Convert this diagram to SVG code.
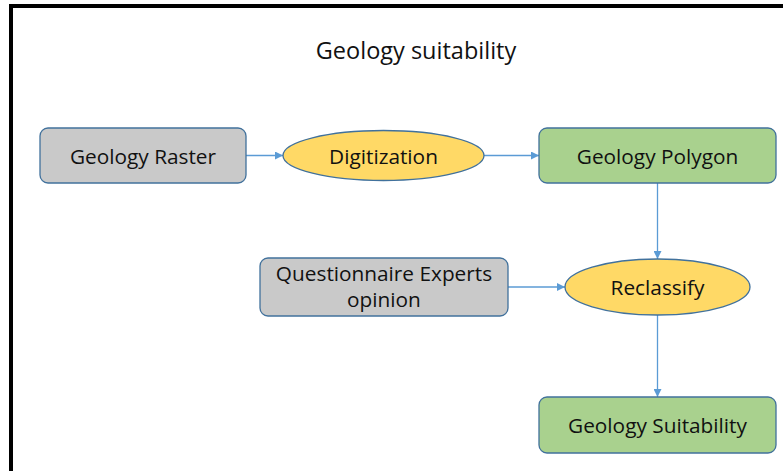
<svg xmlns="http://www.w3.org/2000/svg" width="783" height="471" viewBox="0 0 783 471">
  <defs>
    <marker id="arrow" viewBox="0 0 10 10" refX="10" refY="5" markerWidth="8" markerHeight="8" markerUnits="userSpaceOnUse" orient="auto">
      <path d="M0,0 L10,5 L0,10 z" fill="#5B9BD5"/>
    </marker>
    <style>
      .box { stroke: #41719C; stroke-width: 1.3; }
      .gray { fill: #C9C9C9; }
      .green { fill: #A9D18E; }
      .oval { fill: #FFD966; stroke: #41719C; stroke-width: 1.3; }
      .label { font-family: "Open Sans", "Liberation Sans", sans-serif; font-size: 20.8px; fill: #111; text-anchor: middle; dominant-baseline: central; }
      .title { font-family: "Open Sans", "Liberation Sans", sans-serif; font-size: 23.5px; fill: #111; text-anchor: middle; }
      .conn { stroke: #5B9BD5; stroke-width: 1.3; fill: none; marker-end: url(#arrow); }
    </style>
  </defs>
  <rect width="783" height="471" fill="#ffffff"/>
  <!-- frame: top and left edges -->
  <path d="M11,471 L11,6 L783,6" fill="none" stroke="#000" stroke-width="4"/>

  <text class="title" x="416" y="59">Geology suitability</text>

  <g id="connectors">
    <line class="conn" x1="246" y1="155.5" x2="283" y2="155.5"/>
    <line class="conn" x1="484" y1="155.5" x2="539" y2="155.5"/>
    <line class="conn" x1="657.5" y1="183" x2="657.5" y2="259"/>
    <line class="conn" x1="508" y1="287" x2="565" y2="287"/>
    <line class="conn" x1="657.5" y1="315" x2="657.5" y2="397"/>
  </g>

  <g id="geology-raster">
    <rect class="box gray" x="40" y="128" width="206" height="55" rx="8"/>
    <text class="label" x="143" y="155.5">Geology Raster</text>
  </g>
  <g id="digitization">
    <ellipse class="oval" cx="383.5" cy="155.5" rx="100.5" ry="25"/>
    <text class="label" x="383.5" y="155.5">Digitization</text>
  </g>
  <g id="geology-polygon">
    <rect class="box green" x="539" y="128" width="237" height="55" rx="8"/>
    <text class="label" x="657.5" y="155.5">Geology Polygon</text>
  </g>
  <g id="questionnaire">
    <rect class="box gray" x="260" y="258" width="248" height="58" rx="8"/>
    <text class="label" x="384" y="273">Questionnaire Experts</text>
    <text class="label" x="384" y="299">opinion</text>
  </g>
  <g id="reclassify">
    <ellipse class="oval" cx="657.5" cy="287" rx="92.5" ry="28"/>
    <text class="label" x="657.5" y="287">Reclassify</text>
  </g>
  <g id="geology-suitability">
    <rect class="box green" x="539" y="397" width="237" height="56" rx="8"/>
    <text class="label" x="657.5" y="425">Geology Suitability</text>
  </g>
</svg>
